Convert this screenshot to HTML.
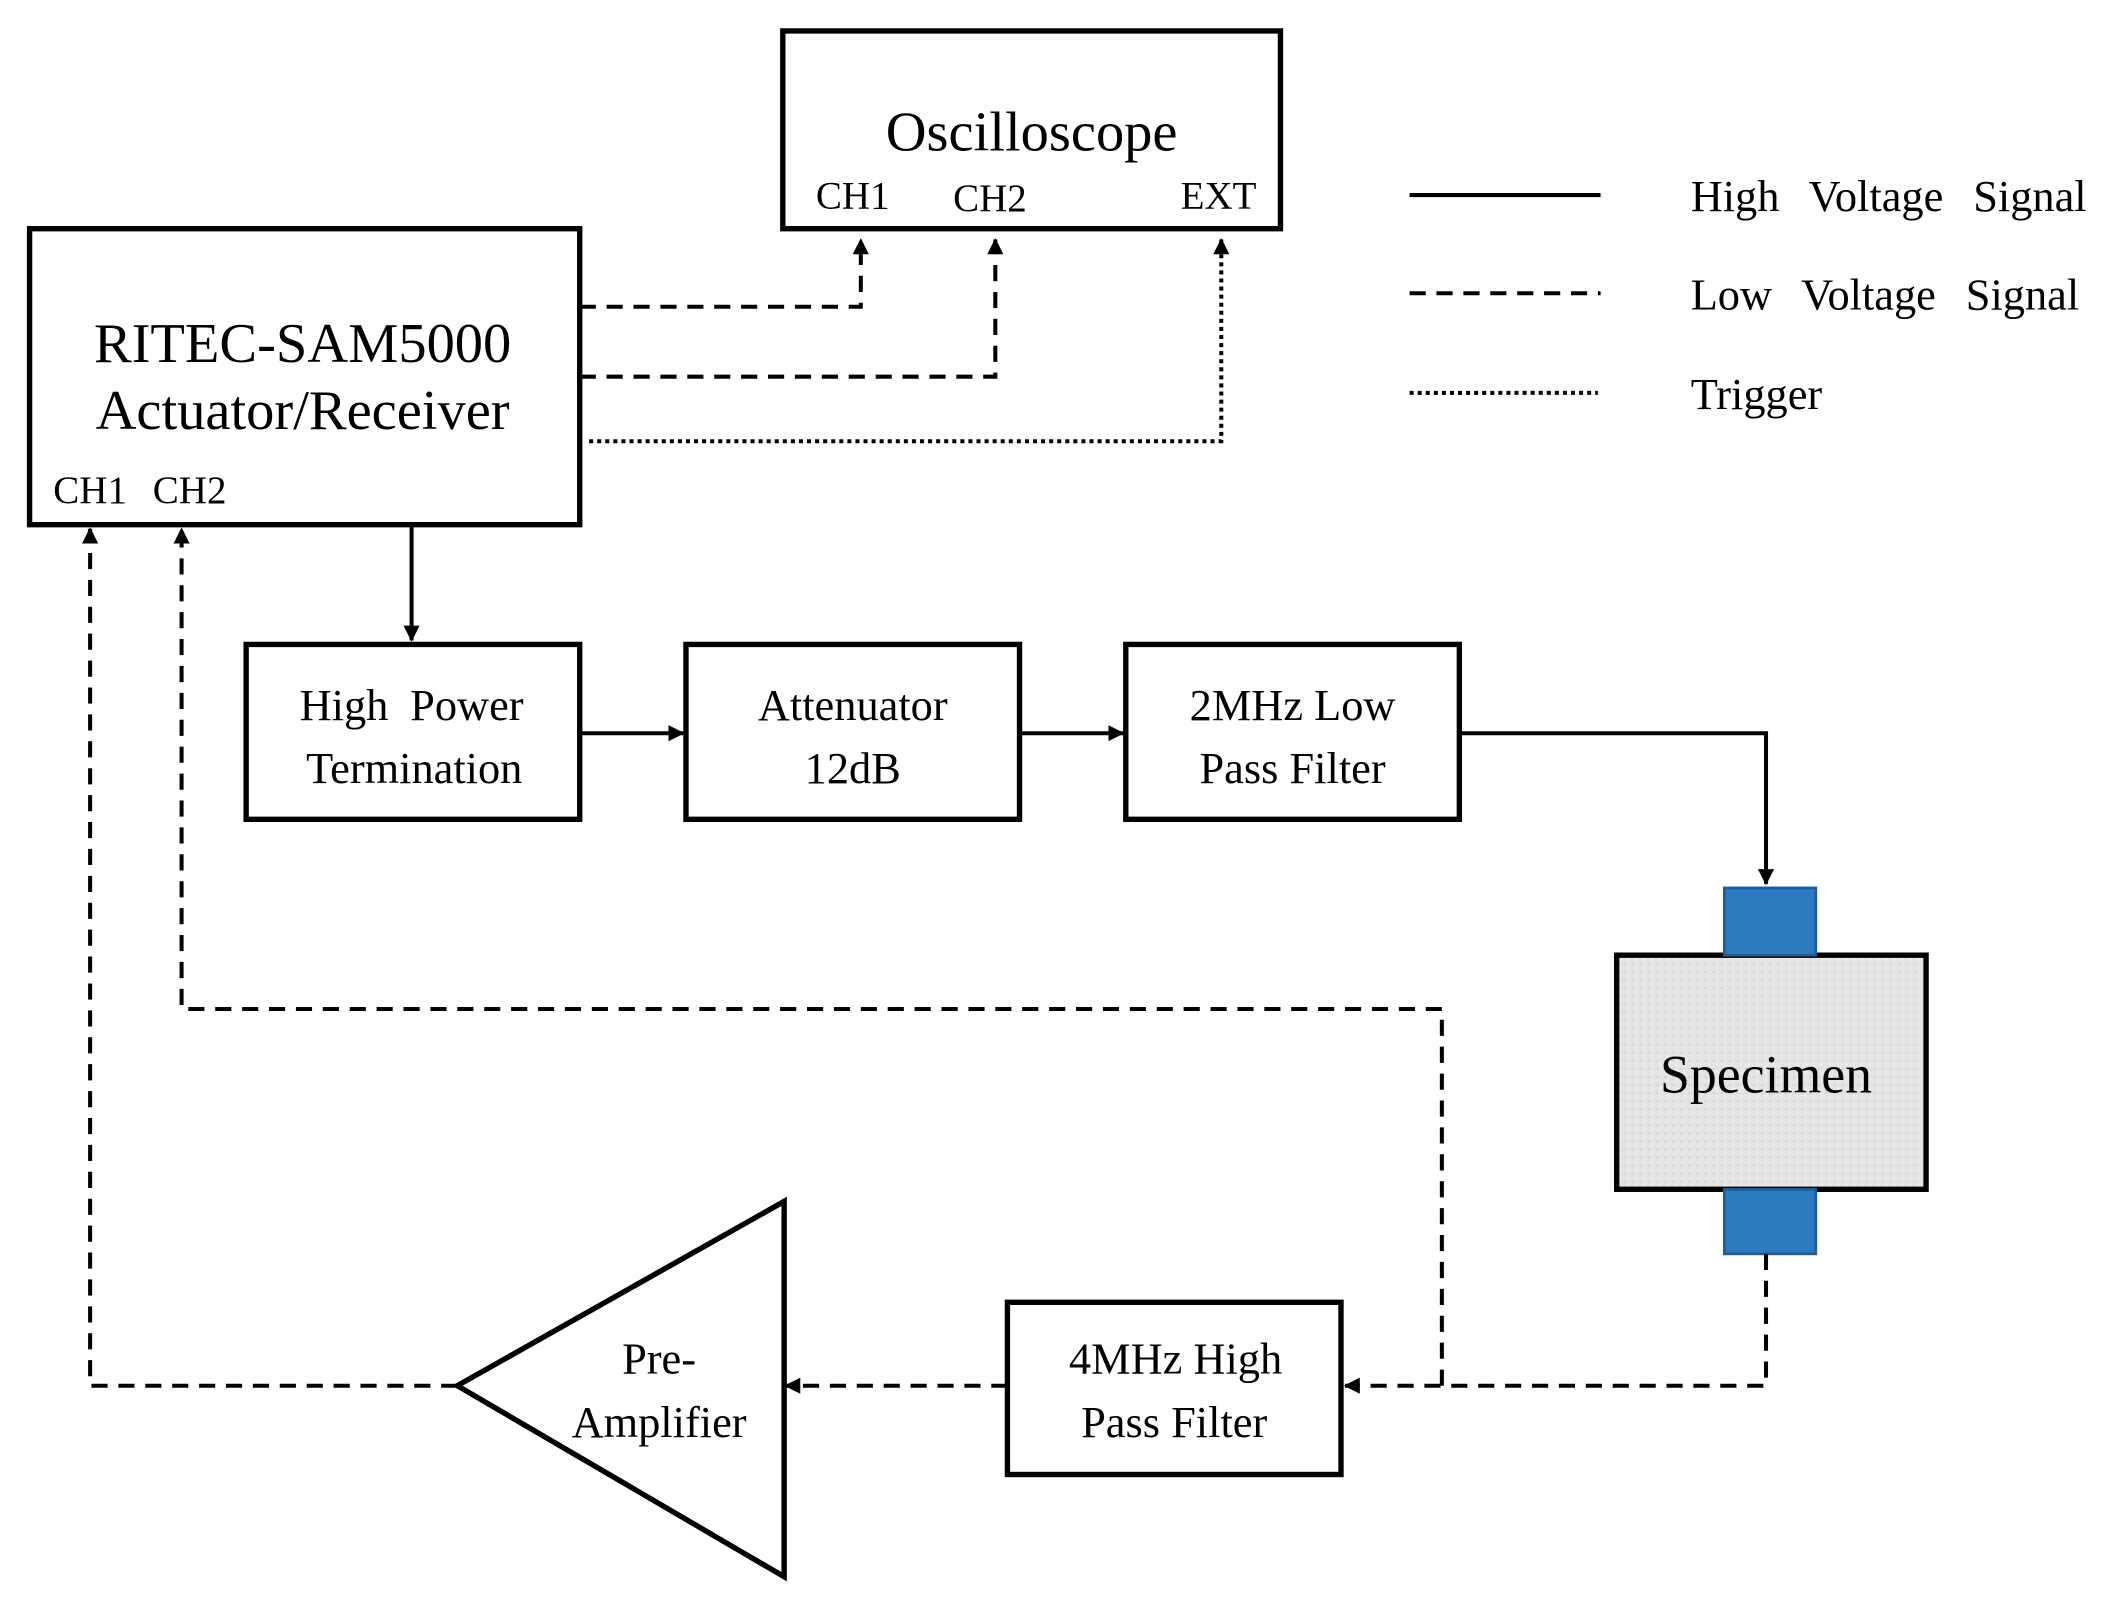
<!DOCTYPE html>
<html><head><meta charset="utf-8"><style>html,body{margin:0;padding:0;background:#fff}svg{display:block}</style></head>
<body>
<svg width="2109" height="1605" viewBox="0 0 1568 1193" preserveAspectRatio="none" xmlns="http://www.w3.org/2000/svg" font-family="Liberation Serif, serif" fill="#000">
<defs>
<marker id="a" markerWidth="12" markerHeight="12" refX="11" refY="6" orient="auto" markerUnits="userSpaceOnUse"><path d="M0,0 L12,6 L0,12 z" fill="#000"/></marker>
<pattern id="n" width="6" height="6" patternUnits="userSpaceOnUse"><rect width="6" height="6" fill="#e4e4e4"/><rect x="1" y="2" width="2" height="1" fill="#cfcfcf"/><rect x="4" y="4" width="1" height="2" fill="#f3f3f3"/></pattern>
</defs>
<g stroke="#000" stroke-width="4" fill="none">
<rect x="582" y="23" width="370" height="147" fill="#fff"/>
<rect x="22" y="170" width="409" height="220" fill="#fff"/>
<rect x="183" y="479" width="248" height="130"/>
<rect x="510" y="479" width="248" height="130"/>
<rect x="837" y="479" width="248" height="130"/>
<rect x="749" y="968" width="248" height="128"/>
<polygon points="340,1030 583,893 583,1172"/>
<rect x="1202" y="710" width="230" height="174" fill="url(#n)"/>
</g>
<rect x="1282" y="660" width="68" height="50" fill="#2a7bbf" stroke="#1c5d95" stroke-width="2"/>
<rect x="1282" y="884" width="68" height="48" fill="#2a7bbf" stroke="#1c5d95" stroke-width="2"/>
<g stroke="#000" stroke-width="3" fill="none">
<path d="M306,390 V476" marker-end="url(#a)"/>
<path d="M431,545 H508" marker-end="url(#a)"/>
<path d="M758,545 H835" marker-end="url(#a)"/>
<path d="M1085,545 H1313 V657" marker-end="url(#a)"/>
<g stroke-dasharray="12,8">
<path d="M431,228 H640 V178" marker-end="url(#a)"/>
<path d="M431,280 H740 V178" marker-end="url(#a)"/>
<path d="M1313,932 V1030 H1000" marker-end="url(#a)"/>
<path d="M1072,1030 V750 H135 V393" marker-end="url(#a)"/>
<path d="M749,1030 H584" marker-end="url(#a)"/>
<path d="M340,1030 H67 V393" marker-end="url(#a)"/>
<path d="M1048,218 H1190"/>
</g>
<path d="M438,328 H908 V178" stroke-dasharray="3,3" marker-end="url(#a)"/>
<path d="M1048,292 H1188" stroke-dasharray="3,3"/>
<path d="M1048,145 H1190"/>
</g>
<g text-anchor="middle">
<text x="767" y="112" font-size="42">Oscilloscope</text>
<text x="634" y="155" font-size="29">CH1</text>
<text x="736" y="157" font-size="29">CH2</text>
<text x="906" y="155" font-size="29">EXT</text>
<text x="225" y="269" font-size="42">RITEC-SAM5000</text>
<text x="225" y="319" font-size="42">Actuator/Receiver</text>
<text x="67" y="374" font-size="29">CH1</text>
<text x="141" y="374" font-size="29">CH2</text>
<text x="306" y="535" font-size="33" word-spacing="8">High Power</text>
<text x="308" y="582" font-size="33">Termination</text>
<text x="634" y="535" font-size="33">Attenuator</text>
<text x="634" y="582" font-size="33">12dB</text>
<text x="961" y="535" font-size="33">2MHz Low</text>
<text x="961" y="582" font-size="33">Pass Filter</text>
<text x="1313" y="812" font-size="40">Specimen</text>
<text x="874" y="1021" font-size="33">4MHz High</text>
<text x="873" y="1068" font-size="33">Pass Filter</text>
<text x="490" y="1021" font-size="33">Pre-</text>
<text x="490" y="1068" font-size="33">Amplifier</text>
</g>
<g font-size="33" word-spacing="14">
<text x="1257" y="157">High Voltage Signal</text>
<text x="1257" y="230">Low Voltage Signal</text>
<text x="1257" y="304">Trigger</text>
</g>
</svg>
</body></html>
